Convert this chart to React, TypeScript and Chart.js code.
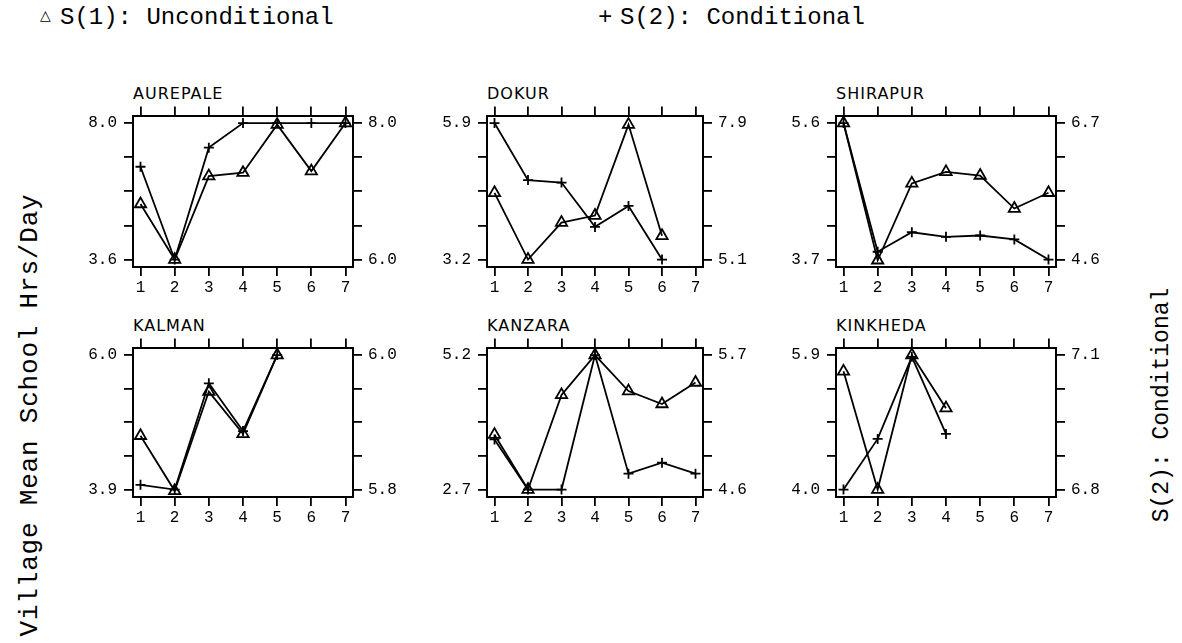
import React, { useEffect, useRef } from "react";
import { Chart, registerables } from "chart.js";

Chart.register(...registerables);

// ---- data ----
const villages = ["AUREPALE", "DOKUR", "SHIRAPUR", "KALMAN", "KANZARA", "KINKHEDA"];
const xTicks = [1, 2, 3, 4, 5, 6, 7];
const xTickLabels = ["1", "2", "3", "4", "5", "6", "7"];

// left axis (S(1): Unconditional) ranges
const leftLo = [3.6, 3.2, 3.7, 3.9, 2.7, 4.0];
const leftHi = [8.0, 5.9, 5.6, 6.0, 5.2, 5.9];
// right axis (S(2): Conditional) ranges
const rightLo = [6.0, 5.1, 4.6, 5.8, 4.6, 6.8];
const rightHi = [8.0, 7.9, 6.7, 6.0, 5.7, 7.1];

// S(1): Unconditional (triangles, left axis)
const s1Aurepale = [5.39, 3.6, 6.29, 6.4, 7.95, 6.45, 8.0];
const s1Dokur = [4.52, 3.2, 3.93, 4.07, 5.87, 3.67];
const s1Shirapur = [5.6, 3.69, 4.76, 4.92, 4.87, 4.41, 4.63];
const s1Kalman = [4.74, 3.88, 5.43, 4.77, 6.0];
const s1Kanzara = [3.72, 2.7, 4.46, 5.2, 4.53, 4.29, 4.69];
const s1Kinkheda = [5.67, 4.0, 5.9, 5.15];

// S(2): Conditional (plus signs, right axis)
const s2Aurepale = [7.36, 6.0, 7.64, 8.0, 8.0, 8.0, 8.0];
const s2Dokur = [7.9, 6.73, 6.68, 5.77, 6.2, 5.1];
const s2Shirapur = [6.7, 4.72, 5.02, 4.95, 4.97, 4.91, 4.6];
const s2Kalman = [5.807, 5.8, 5.958, 5.887, 6.0];
const s2Kanzara = [5.01, 4.6, 4.6, 5.7, 4.73, 4.82, 4.73];
const s2Kinkheda = [6.8, 6.913, 7.096, 6.924];

const s1Series = [s1Aurepale, s1Dokur, s1Shirapur, s1Kalman, s1Kanzara, s1Kinkheda];
const s2Series = [s2Aurepale, s2Dokur, s2Shirapur, s2Kalman, s2Kanzara, s2Kinkheda];

// ---- layout ----
const BOX_L = [133, 487, 836];
const BOX_R = [353, 703, 1056];
const BOX_T = [115, 347];
const BOX_B = [267, 497];
const PL = 60, PR = 60, PT = 16, PB = 36;
const MONO = '"Liberation Mono", "DejaVu Sans Mono", monospace';

function Panel({ i }: { i: number }) {
  const ref = useRef<HTMLCanvasElement>(null);
  const col = i % 3;
  const row = Math.floor(i / 3);
  const boxL = BOX_L[col];
  const boxW = BOX_R[col] - BOX_L[col];
  const boxT = BOX_T[row];
  const boxH = BOX_B[row] - BOX_T[row];
  const cw = boxW + PL + PR;
  const ch = boxH + PT + PB;

  useEffect(() => {
    if (!ref.current) return;
    const pad = 7.5;
    const xPad = (6 * pad) / (boxW - 2 * pad);
    const yPadL = ((leftHi[i] - leftLo[i]) * pad) / (boxH - 2 * pad);
    const yPadR = ((rightHi[i] - rightLo[i]) * pad) / (boxH - 2 * pad);
    const tickFont = { family: MONO, size: 16 };
    const grid = { drawOnChartArea: false, drawTicks: true, tickLength: 9, color: "#000", lineWidth: 1.8 };
    const border = { display: true, color: "#000", width: 2 };
    const fiveTicks = (lo: number, hi: number) =>
      [0, 1, 2, 3, 4].map((k) => ({ value: lo + (k * (hi - lo)) / 4 }));
    const yLabel = (v: any, idx: number) => (idx === 0 || idx === 4 ? Number(v).toFixed(1) : "");

    const chart = new Chart(ref.current, {
      type: "line",
      data: {
        datasets: [
          {
            data: s1Series[i].map((v, k) => ({ x: xTicks[k], y: v })),
            xAxisID: "x",
            yAxisID: "y",
            borderColor: "#000",
            borderWidth: 1.8,
            pointStyle: "triangle",
            pointRadius: 6.5,
            pointBorderColor: "#000",
            pointBackgroundColor: "rgba(0,0,0,0)",
            pointBorderWidth: 1.8,
            tension: 0,
            fill: false,
          },
          {
            data: s2Series[i].map((v, k) => ({ x: xTicks[k], y: v })),
            xAxisID: "x",
            yAxisID: "y2",
            borderColor: "#000",
            borderWidth: 1.8,
            pointStyle: "cross",
            pointRadius: 5,
            pointBorderColor: "#000",
            pointBorderWidth: 1.8,
            tension: 0,
            fill: false,
          },
        ],
      },
      options: {
        animation: false,
        responsive: false,
        events: [],
        layout: { padding: 0 },
        plugins: { legend: { display: false }, tooltip: { enabled: false }, title: { display: false } },
        scales: {
          x: {
            type: "linear",
            position: "bottom",
            min: 1 - xPad,
            max: 7 + xPad,
            afterBuildTicks: (a: any) => {
              a.ticks = xTicks.map((v) => ({ value: v }));
            },
            ticks: {
              autoSkip: false,
              maxRotation: 0,
              padding: 2,
              color: "#000",
              font: tickFont,
              callback: (_v: any, idx: number) => xTickLabels[idx],
            },
            grid,
            border,
            afterFit: (s: any) => {
              s.height = PB;
            },
          },
          xTop: {
            type: "linear",
            position: "top",
            min: 1 - xPad,
            max: 7 + xPad,
            afterBuildTicks: (a: any) => {
              a.ticks = xTicks.map((v) => ({ value: v }));
            },
            ticks: { autoSkip: false, maxRotation: 0, color: "#000", font: tickFont, callback: () => "" },
            grid,
            border,
            afterFit: (s: any) => {
              s.height = PT;
            },
          },
          y: {
            type: "linear",
            position: "left",
            min: leftLo[i] - yPadL,
            max: leftHi[i] + yPadL,
            afterBuildTicks: (a: any) => {
              a.ticks = fiveTicks(leftLo[i], leftHi[i]);
            },
            ticks: { autoSkip: false, padding: 7, color: "#000", font: tickFont, callback: yLabel },
            grid,
            border,
            afterFit: (s: any) => {
              s.width = PL;
            },
          },
          y2: {
            type: "linear",
            position: "right",
            min: rightLo[i] - yPadR,
            max: rightHi[i] + yPadR,
            afterBuildTicks: (a: any) => {
              a.ticks = fiveTicks(rightLo[i], rightHi[i]);
            },
            ticks: { autoSkip: false, padding: 6, color: "#000", font: tickFont, callback: yLabel },
            grid,
            border,
            afterFit: (s: any) => {
              s.width = PR;
            },
          },
        },
      } as any,
    });
    return () => chart.destroy();
  }, [i]);

  return (
    <>
      <div
        style={{
          position: "absolute",
          left: boxL,
          top: boxT - 29,
          font: '16px "DejaVu Sans", sans-serif',
          lineHeight: "16px",
          letterSpacing: "1px",
          color: "#000",
          whiteSpace: "nowrap",
        }}
      >
        {villages[i]}
      </div>
      <canvas
        ref={ref}
        width={cw}
        height={ch}
        style={{ position: "absolute", left: boxL - PL, top: boxT - PT, width: cw, height: ch }}
      />
    </>
  );
}

export default function App() {
  return (
    <div
      style={{
        position: "absolute",
        left: 0,
        top: 0,
        width: 1182,
        height: 643,
        background: "#fff",
        overflow: "hidden",
        color: "#000",
      }}
    >
      {/* legend */}
      <div style={{ position: "absolute", left: 40, top: 8, font: '14px "DejaVu Sans"', lineHeight: "14px" }}>△</div>
      <div style={{ position: "absolute", left: 60, top: 6, font: `24px ${MONO}`, lineHeight: "24px", whiteSpace: "nowrap" }}>
        S(1): Unconditional
      </div>
      <div style={{ position: "absolute", left: 598, top: 6, font: `24px ${MONO}`, lineHeight: "24px" }}>+</div>
      <div style={{ position: "absolute", left: 620, top: 6, font: `24px ${MONO}`, lineHeight: "24px", whiteSpace: "nowrap" }}>
        S(2): Conditional
      </div>

      {/* axis titles */}
      <div
        style={{
          position: "absolute",
          left: 30,
          top: 415,
          transform: "translate(-50%, -50%) rotate(-90deg)",
          font: `26px ${MONO}`,
          letterSpacing: "0.8px",
          whiteSpace: "nowrap",
        }}
      >
        Village Mean School Hrs/Day
      </div>
      <div
        style={{
          position: "absolute",
          left: 1162,
          top: 405,
          transform: "translate(-50%, -50%) rotate(-90deg)",
          font: `23px ${MONO}`,
          whiteSpace: "nowrap",
        }}
      >
        S(2): Conditional
      </div>

      {[0, 1, 2, 3, 4, 5].map((i) => (
        <Panel key={i} i={i} />
      ))}
    </div>
  );
}
